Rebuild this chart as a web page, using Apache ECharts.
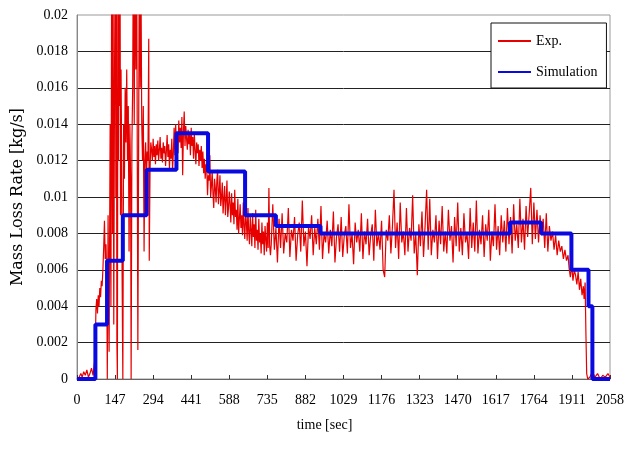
<!DOCTYPE html>
<html>
<head>
<meta charset="utf-8">
<script src="https://cdn.jsdelivr.net/npm/echarts@6/dist/echarts.min.js"></script>
<style>
  html, body { margin: 0; padding: 0; background: #fff; }
  #chart { width: 627px; height: 452px; }
</style>
</head>
<body>
<div id="chart"></div>
<script>
// Axis tick values
const timeTicks = [0, 147, 294, 441, 588, 735, 882, 1029, 1176, 1323, 1470, 1617, 1764, 1911, 2058];
const rateTicks = [0, 0.002, 0.004, 0.006, 0.008, 0.01, 0.012, 0.014, 0.016, 0.018, 0.02];

const seriesNames = ['Exp.', 'Simulation'];

// Simulated mass loss rate: step levels (time in s, rate in g/s), each held until the next time
const simTime = [0, 71, 116, 177, 269, 384, 506, 649, 768, 940, 1672, 1792, 1909, 1975, 1990, 2058];
const simRate = [0, 3.0, 6.5, 9.0, 11.5, 13.5, 11.4, 9.0, 8.4, 8.0, 8.6, 8.0, 6.0, 4.0, 0, 0];

// Measured mass loss rate samples [time s, rate g/s]
const expIgnition = [
  [0,0],[8,0.1],[15,0.3],[20,0.1],[26,0.4],[32,0.2],[38,0.5],[44,0.1],[50,0.3],[56,0.6],[62,0.2],[66,0.3],
  [70,1.2],[73,3.8],[76,4.4],[79,3.6],[82,4.6],[85,4.0],[88,5.0],[91,4.5],[94,5.4],[97,5.1],[100,6.0],
  [103,7.2],[106,8.7],[109,6.6],[112,7.4]
];
const expUnstable = [
  [115,5.5],[117,0],[120,9],[124,1.5],[128,14],[131,4],[134,24],[137,8],[139,25],[142,3],[145,17],[148,25],
  [150,10],[152,24],[154,2],[156,0],[158,22],[160,12],[162,25],[164,15],[166,25],[168,9],[170,17],[172,13],
  [174,6],[177,0],[180,14],[183,11],[186,16],[189,13],[192,17],[195,12],[198,15],[201,7],[204,14],[207,11],
  [209,0],[212,13],[215,16],[218,25],[221,14],[224,25],[227,17],[230,25],[232,16],[235,1.6],[238,13],[241,25],
  [244,16],[247,22],[250,14],[253,12],[256,15],[259,7],[262,12],[265,13],[268,11],[271,12.5],[274,12],
  [277,18.7],[279,6.5],[282,11.5],[285,13]
];
const expPeak = [
  [288,12.6],[291,12.0],[294,13.2],[297,12.2],[300,12.8],[303,11.8],[306,12.9],[309,12.3],[312,13.1],[315,12.0],
  [318,12.6],[321,13.3],[324,12.1],[327,12.7],[330,11.9],[333,13.0],[336,12.4],[339,12.8],[342,11.7],[345,12.5],
  [348,13.4],[351,12.2],[354,12.9],[357,11.6],[360,12.6],[363,12.1],[366,13.2],[369,11.5],[372,12.4],[375,13.8],
  [378,12.3],[381,14.0],[384,12.8],[387,13.5],[390,12.4],[393,14.2],[396,13.0],[399,13.8],[402,12.7],[405,14.4],
  [408,11.2],[411,13.6],[414,14.7],[417,12.8],[420,13.9],[423,13.2],[426,12.6],[429,13.7],[432,12.9],[435,13.4],
  [438,12.3],[441,13.8],[444,12.8],[447,13.3],[450,12.1],[453,13.5],[456,12.6],[459,11.8],[462,13.0],[465,12.4],
  [468,12.9],[471,11.7],[474,12.6],[477,12.0],[480,12.8],[483,11.6],[486,12.5],[489,11.3],[492,12.1],[495,11.0],
  [498,11.8]
];
const expDecay = [
  [501,11.6],[504,10.1],[507,11.2],[510,10.9],[513,12.3],[516,10.0],[519,10.6],[522,11.4],[525,10.2],[528,9.4],
  [531,11.0],[534,10.5],[537,9.7],[540,10.9],[543,11.5],[546,9.6],[549,10.3],[552,11.2],[555,9.5],[558,10.0],
  [561,10.8],[564,9.1],[567,9.9],[570,10.6],[573,9.0],[576,9.8],[579,10.9],[582,8.9],[585,9.4],[588,10.3],
  [591,9.6],[594,8.6],[597,10.2],[600,9.0],[603,9.7],[606,8.5],[609,10.4],[612,8.9],[615,9.3],[618,8.2],
  [621,9.9],[624,8.0],[627,8.8],[630,9.6],[633,8.3],[636,9.0],[639,7.9],[642,9.7],[645,8.4],[648,7.7],
  [651,9.2],[654,8.6],[657,7.6],[660,9.4],[663,8.1],[666,7.4],[669,8.9],[672,8.2],[675,7.3],[678,9.1],
  [681,7.8],[684,8.5],[687,7.2],[690,9.3],[693,7.6],[696,8.2],[699,7.1],[702,8.8],[705,7.5],[708,8.0],
  [711,6.9],[714,8.6],[717,7.4],[720,8.1],[723,6.8],[726,8.4],[729,7.7],[732,7.0],[735,8.6],[738,7.2],
  [741,10.5],[744,7.3],[747,6.8]
];
const expSteady = [
  [750,7.4],[756,9.6],[762,7.1],[768,8.3],[774,6.4],[780,8.8],[786,7.2],[792,9.1],[798,6.9],[804,8.0],
  [810,7.5],[816,9.4],[822,6.7],[828,8.2],[834,7.6],[840,8.9],[846,6.5],[852,7.9],[858,8.6],[864,7.0],
  [870,9.8],[876,7.3],[882,8.1],[888,6.2],[894,8.4],[900,7.7],[906,9.0],[912,6.8],[918,8.3],[924,7.4],
  [930,8.8],[936,7.1],[942,9.5],[948,6.6],[954,8.0],[960,7.5],[966,8.7],[972,6.9],[978,8.2],[984,7.3],
  [990,9.2],[996,6.4],[1002,7.8],[1008,8.5],[1014,7.0],[1020,8.9],[1026,6.7],[1032,7.9],[1038,8.4],[1044,6.9],
  [1050,9.6],[1056,7.2],[1062,8.0],[1068,6.3],[1074,8.6],[1080,7.5],[1086,8.2],[1092,7.0],[1098,9.1],[1104,6.6],
  [1110,8.1],[1116,7.4],[1122,8.8],[1128,6.8],[1134,7.9],[1140,8.5],[1146,6.5],[1152,9.3],[1158,7.3],[1164,8.0],
  [1170,7.1],[1176,8.7],[1182,6.0],[1188,5.6],[1194,8.2],[1200,7.6],[1206,9.0],[1212,6.9],[1218,8.4],[1224,10.4],
  [1230,7.2],[1236,8.6],[1242,6.6],[1248,9.7],[1254,7.5],[1260,8.1],[1266,6.8],[1272,9.4],[1278,7.0],[1284,8.3],
  [1290,7.6],[1296,10.1],[1302,6.9],[1308,8.0],[1314,5.7],[1320,8.5],[1326,7.3],[1332,9.2],[1338,6.7],[1344,8.4],
  [1350,10.4],[1356,7.1],[1362,9.9],[1368,6.8],[1374,8.2],[1380,7.5],[1386,9.0],[1392,6.6],[1398,8.7],[1404,7.4],
  [1410,9.5],[1416,7.0],[1422,8.1],[1428,6.9],[1434,9.3],[1440,7.6],[1446,8.4],[1452,6.4],[1458,8.9],[1464,7.3],
  [1470,9.7],[1476,7.0],[1482,8.3],[1488,6.8],[1494,9.1],[1500,7.5],[1506,8.0],[1512,6.6],[1518,9.4],[1524,7.2],
  [1530,8.6],[1536,7.0],[1542,9.8],[1548,6.9],[1554,8.2],[1560,7.4],[1566,9.0],[1572,6.7],[1578,8.5],[1584,7.6],
  [1590,9.3],[1596,6.5],[1602,8.1],[1608,7.3],[1614,9.6],[1620,7.1],[1626,8.4],[1632,6.8],[1638,9.0],[1644,7.5],
  [1650,8.7],[1656,7.0],[1662,9.4],[1668,7.4],[1674,8.9],[1680,6.9],[1686,9.6],[1692,7.6],[1698,8.5],[1704,7.2],
  [1710,9.9],[1716,7.5],[1722,8.8],[1728,7.1],[1734,9.5],[1740,7.8],[1746,9.1],[1752,10.5],[1758,7.4],[1764,9.7],
  [1770,7.7],[1776,9.3],[1782,7.5],[1788,9.0],[1794,7.9],[1800,8.8],[1806,7.2],[1812,9.1],[1818,7.0],[1824,8.4],
  [1830,7.6],[1836,8.1],[1842,7.1],[1848,7.9],[1854,6.8],[1860,7.6],[1866,7.0],[1872,7.3],[1878,6.6],[1884,7.1],
  [1890,6.5],[1896,6.8]
];
const expBurnout = [
  [1900,6.1],[1905,5.6],[1910,6.3],[1915,5.4],[1920,6.0],[1925,5.7],[1930,5.2],[1935,5.9],[1940,4.9],[1945,5.5],
  [1950,4.6],[1955,5.1],[1958,4.4],[1962,5.3],[1965,2.5],[1968,0.3],[1972,0],[1980,0.1],[1990,0.4],[2000,0.1],
  [2010,0.3],[2020,0],[2030,0.2],[2040,0.1],[2050,0.3],[2058,0.1]
];

// g/s -> kg/s
const toKg = v => v / 1000;
const expData = [].concat(expIgnition, expUnstable, expPeak, expDecay, expSteady, expBurnout)
  .map(p => [p[0], toKg(p[1])]);
const simData = simTime.map((t, i) => [t, toKg(simRate[i])]);

const serif = 'Liberation Serif, Times New Roman, serif';

const chart = echarts.init(document.getElementById('chart'), null, { renderer: 'canvas' });
chart.setOption({
  animation: false,
  backgroundColor: '#fff',
  grid: {
    left: 77, right: 12, top: 15, bottom: 73,
    show: true, borderColor: '#999', borderWidth: 1
  },
  legend: {
    orient: 'vertical',
    left: 491, top: 23,
    padding: [11, 9, 9, 6],
    itemGap: 17,
    itemWidth: 33,
    itemHeight: 14,
    backgroundColor: '#fff',
    borderColor: '#111',
    borderWidth: 1,
    borderRadius: 0,
    itemStyle: { opacity: 0 },
    textStyle: { fontFamily: serif, fontSize: 14, color: '#000' },
    data: seriesNames
  },
  xAxis: {
    type: 'value',
    min: timeTicks[0],
    max: timeTicks[timeTicks.length - 1],
    interval: timeTicks[1] - timeTicks[0],
    axisLine: { lineStyle: { color: '#666', width: 1 } },
    axisTick: { show: true, inside: true, length: 4, lineStyle: { color: '#333' } },
    axisLabel: {
      margin: 14, fontFamily: serif, fontSize: 14, color: '#000',
      formatter: v => String(v)
    },
    splitLine: { show: false },
    name: 'time [sec]',
    nameLocation: 'middle',
    nameGap: 39,
    nameTextStyle: { fontFamily: serif, fontSize: 14, color: '#000', padding: [0, 38, 0, 0] }
  },
  yAxis: {
    type: 'value',
    min: rateTicks[0],
    max: rateTicks[rateTicks.length - 1],
    interval: rateTicks[1] - rateTicks[0],
    axisLine: { show: true, lineStyle: { color: '#888', width: 1 } },
    axisTick: { show: false },
    axisLabel: { margin: 9, fontFamily: serif, fontSize: 14, color: '#000' },
    splitLine: { show: true, showMinLine: false, showMaxLine: false, lineStyle: { color: '#222', width: 1 } },
    name: 'Mass Loss Rate [kg/s]',
    nameLocation: 'middle',
    nameGap: 44,
    nameTextStyle: { fontFamily: 'DejaVu Serif, serif', fontSize: 16, color: '#000' }
  },
  series: [
    {
      name: seriesNames[0],
      type: 'line',
      data: expData,
      symbol: 'none',
      clip: true,
      lineStyle: { color: '#e60000', width: 1.2 },
      itemStyle: { color: '#e60000' },
      z: 2
    },
    {
      name: seriesNames[1],
      type: 'line',
      data: simData,
      step: 'end',
      symbol: 'none',
      clip: true,
      lineStyle: { color: '#0a0ae0', width: 4 },
      itemStyle: { color: '#0a0ae0' },
      z: 3
    }
  ]
});
</script>
</body>
</html>
